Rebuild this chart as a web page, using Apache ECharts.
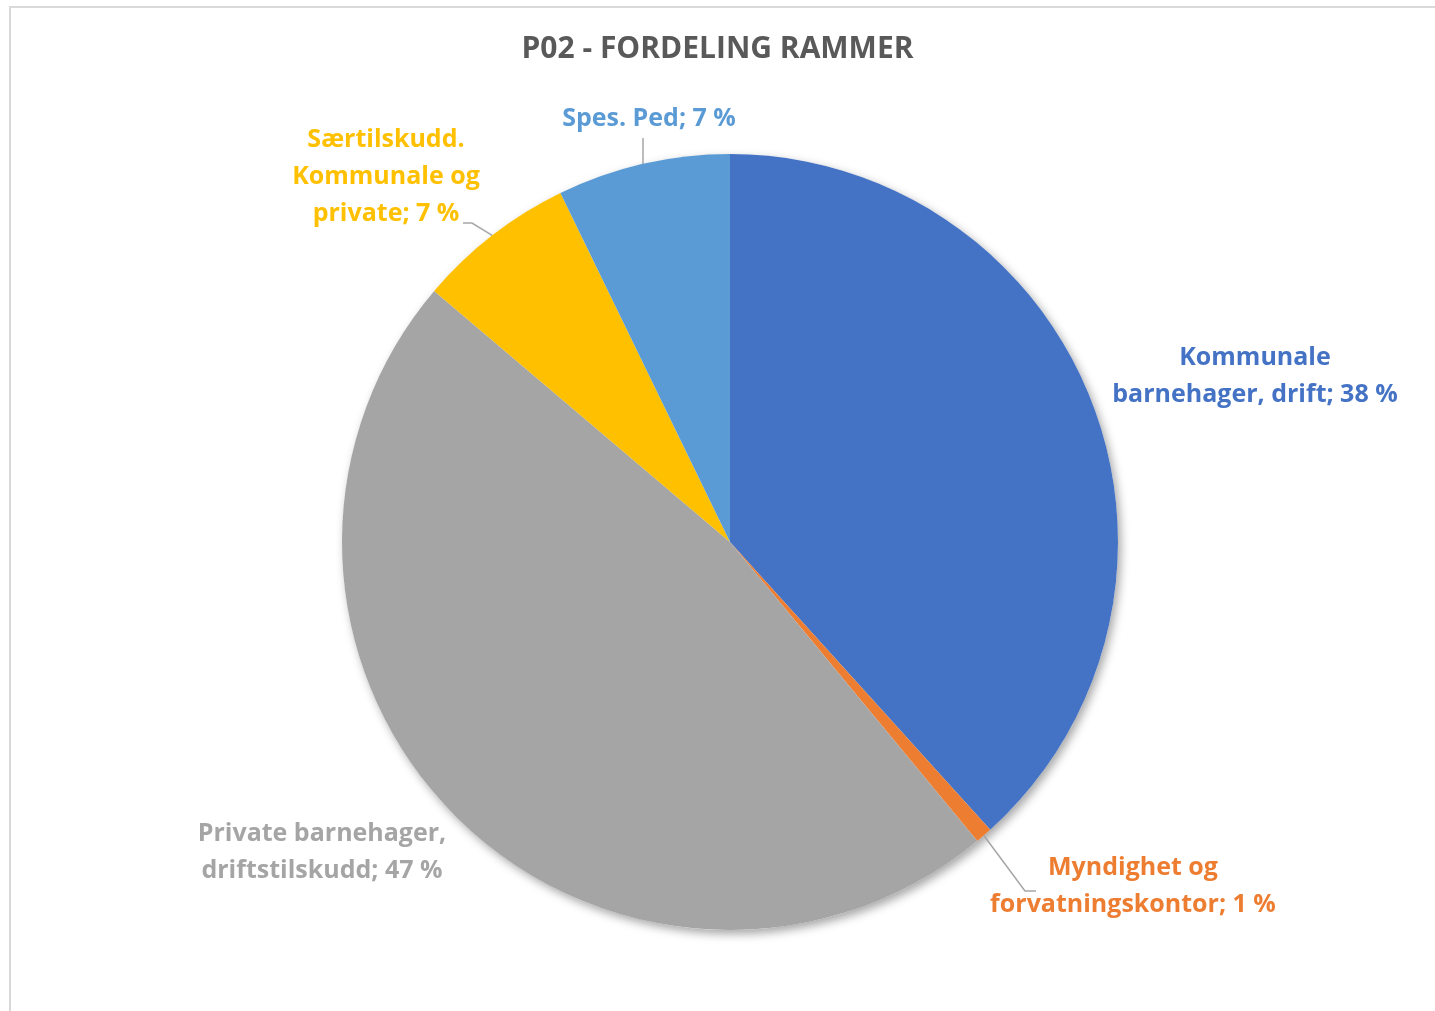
<!DOCTYPE html>
<html>
<head>
<meta charset="utf-8">
<title>P02 - Fordeling rammer</title>
<script src="https://cdn.jsdelivr.net/npm/echarts@6/dist/echarts.min.js"></script>
<style>
  html, body { margin: 0; padding: 0; background: #fff; }
  #chart { width: 1435px; height: 1011px; }
</style>
</head>
<body>
<div id="chart"></div>
<script>
// slice names (line breaks as in the original labels), values in percent
var categories = [
  'Kommunale\nbarnehager, drift',
  'Myndighet og\nforvatningskontor',
  'Private barnehager,\ndriftstilskudd',
  'Særtilskudd.\nKommunale og\nprivate',
  'Spes. Ped'
]
var values = [38.3, 0.7, 47.2, 6.6, 7.2]
var colors = ['#4472C4', '#ED7D31', '#A5A5A5', '#FFC000', '#5B9BD5']

// where each label sits (text block centre)
var labelPos = [[1255, 376], [1133, 886], [322, 852], [386, 177], [649, 119]]
// leader line: elbow and end point near the label (null = no line)
var leader = [
  null,
  [[1025, 891], [1036, 891]],
  null,
  [[472, 223], [463, 223]],
  [[643, 140], [643, 138]]
]

var chart = echarts.init(document.getElementById('chart'))

var pieData = categories.map(function(name, i) {
  return {
    name: name,
    value: values[i],
    itemStyle: { color: colors[i] },
    label: { color: colors[i] },
    labelLine: { show: leader[i] != null }
  }
})

chart.setOption({
  animation: false,
  backgroundColor: '#fff',
  title: {
    text: 'P02 - FORDELING RAMMER',
    left: 'center',
    top: 29,
    textStyle: {
      fontFamily: 'Open Sans',
      fontSize: 30,
      fontWeight: 'bold',
      color: '#595959'
    }
  },
  graphic: [{
    type: 'rect',
    silent: true,
    shape: { x: 10, y: 7, width: 1600, height: 1200 },
    style: { fill: 'none', stroke: '#d9d9d9', lineWidth: 2 }
  }],
  series: [
    {
      // soft drop shadow under the pie
      type: 'pie',
      silent: true,
      center: [730, 542],
      radius: 388,
      z: 1,
      label: { show: false },
      labelLine: { show: false },
      itemStyle: {
        color: '#fff',
        shadowBlur: 10,
        shadowOffsetX: 3,
        shadowOffsetY: 4,
        shadowColor: 'rgba(0,0,0,0.35)'
      },
      data: [{ value: 1 }]
    },
    {
      type: 'pie',
      center: [730, 542],
      radius: 388,
      startAngle: 90,
      clockwise: true,
      z: 2,
      itemStyle: { borderWidth: 0 },
      label: {
        show: true,
        position: 'outside',
        fontFamily: 'Open Sans',
        fontSize: 25,
        fontWeight: 'bold',
        lineHeight: 37,
        align: 'center',
        formatter: function(p) {
          return p.name + '; ' + Math.round(p.value) + ' %'
        }
      },
      labelLine: {
        length: 10,
        length2: 10,
        lineStyle: { color: '#a6a6a6', width: 1.5 }
      },
      labelLayout: function(p) {
        var pos = labelPos[p.dataIndex]
        var out = {
          x: pos[0],
          y: pos[1],
          align: 'center',
          verticalAlign: 'middle'
        }
        var l = leader[p.dataIndex]
        if (l && p.labelLinePoints) {
          // start where the library anchors the line on the slice edge
          out.labelLinePoints = [p.labelLinePoints[0], l[0], l[1]]
        }
        return out
      },
      data: pieData
    }
  ]
})
</script>
</body>
</html>
